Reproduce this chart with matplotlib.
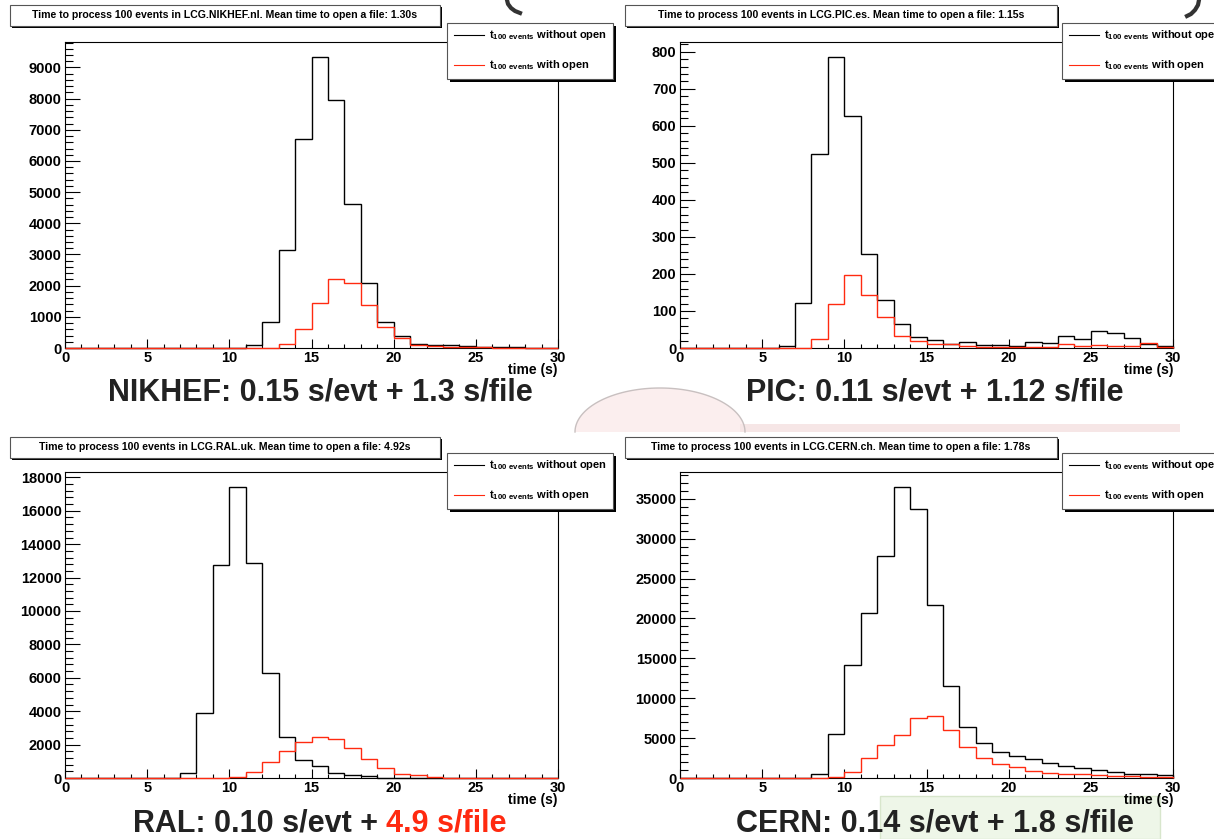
import numpy as np
import matplotlib.pyplot as plt
from matplotlib.patches import Rectangle, Polygon
from matplotlib.lines import Line2D
from matplotlib.ticker import MultipleLocator

plt.rcParams['font.family'] = ['Liberation Sans', 'DejaVu Sans']
plt.rcParams['font.weight'] = 'bold'
plt.rcParams['mathtext.fontset'] = 'custom'
plt.rcParams['mathtext.rm'] = 'Liberation Sans:bold'
plt.rcParams['mathtext.bf'] = 'Liberation Sans:bold'

W, H = 1214, 839
RED = '#ff2a10'

# time bins (s), 1 s wide
bin_edges = np.arange(0, 31)

# counts per bin
nikhef_no_open = [0, 0, 0, 0, 0, 0, 0, 0, 0, 0,
                  0, 90, 820, 3140, 6690, 9350, 7950, 4630, 2100, 840,
                  395, 140, 105, 95, 65, 30, 32, 32, 0, 0]
nikhef_open = [0, 0, 0, 0, 0, 0, 0, 0, 0, 0,
               0, 0, 0, 130, 600, 1430, 2200, 2100, 1380, 660,
               330, 96, 53, 32, 21, 21, 10, 8, 5, 3]

pic_no_open = [0, 0, 0, 0, 0, 0, 5, 122, 524, 787,
               627, 254, 129, 66, 29, 21, 10, 15, 8, 8,
               5, 15, 13, 33, 23, 46, 41, 26, 10, 5]
pic_open = [0, 0, 0, 0, 0, 0, 0, 0, 23, 120,
            197, 142, 83, 32, 19, 10, 11, 5, 4, 4,
            4, 4, 4, 11, 5, 7, 5, 5, 13, 3]

ral_no_open = [0, 0, 0, 0, 0, 0, 0, 320, 3890, 12750,
               17450, 12900, 6260, 2470, 1080, 720, 320, 200, 120, 20,
               20, 0, 0, 0, 0, 0, 0, 0, 0, 0]
ral_open = [0, 0, 0, 0, 0, 0, 0, 0, 0, 0,
            40, 380, 960, 1630, 2170, 2470, 2330, 1790, 1120, 580,
            260, 160, 60, 20, 0, 0, 0, 0, 0, 0]

cern_no_open = [0, 0, 0, 0, 0, 0, 0, 0, 500, 5460,
                14170, 20750, 27880, 36540, 33790, 21670, 11540, 6420, 4330, 3290,
                2710, 2330, 1880, 1540, 1210, 960, 750, 540, 460, 380]
cern_open = [0, 0, 0, 0, 0, 0, 0, 0, 0, 100,
             710, 2540, 4130, 5330, 7580, 7790, 5960, 3830, 2540, 1710,
             1420, 920, 670, 540, 460, 380, 290, 250, 170, 170]

titles = ['Time to process 100 events in LCG.NIKHEF.nl. Mean time to open a file: 1.30s',
          'Time to process 100 events in LCG.PIC.es. Mean time to open a file: 1.15s',
          'Time to process 100 events in LCG.RAL.uk. Mean time to open a file: 4.92s',
          'Time to process 100 events in LCG.CERN.ch. Mean time to open a file: 1.78s']
y_major = [1000, 100, 2000, 5000]
y_minor = [200, 20, 400, 1000]


def fx(x):
    return x / W


def fy(y):
    return 1 - y / H


def rect_px(x0, y0, x1, y1, **kw):
    return Rectangle((fx(x0), fy(y1)), (x1 - x0) / W, (y1 - y0) / H,
                     transform=fig.transFigure, **kw)


fig = plt.figure(figsize=(W / 100, H / 100), dpi=100)

# faint slide decorations in the background
th = np.linspace(0, np.pi, 80)
dx = 660 + 85 * np.cos(th)
dy = 432 - 44 * np.sin(th)
fig.add_artist(Polygon(np.column_stack([fx(dx), fy(dy)]), closed=True, transform=fig.transFigure,
                       facecolor='#fbeeee', edgecolor='none', zorder=-5))
fig.add_artist(Line2D(fx(dx), fy(dy), color='#c8c0c0', lw=1.0, transform=fig.transFigure, zorder=-4))
fig.add_artist(rect_px(740, 424, 1180, 432, facecolor='#f6e6e6', edgecolor='none', zorder=-5))
fig.add_artist(rect_px(880, 796, 1160, 839, facecolor='#eef6e8', edgecolor='#d8e6cc', lw=1, zorder=-5))
# cut-off bracket strokes of the slide heading
fig.add_artist(Line2D(fx(np.array([507, 508, 511, 515, 520])), fy(np.array([0, 4, 8, 11, 13])),
                      color='#333333', lw=3, transform=fig.transFigure))
fig.add_artist(Line2D(fx(np.array([1199, 1198, 1195, 1191, 1187])), fy(np.array([0, 5, 10, 14, 16])),
                      color='#333333', lw=3, transform=fig.transFigure))

# frame boxes (left, top, right, bottom) in pixels
frames = [(65, 42, 558, 348), (680, 42, 1173, 348), (65, 472, 558, 778), (680, 472, 1173, 778)]
title_boxes = [(10, 5, 440, 26), (625, 5, 1057, 26), (10, 437, 440, 458), (625, 437, 1057, 458)]
legend_boxes = [(447, 23, 613, 79), (1062, 23, 1228, 79), (447, 453, 613, 509), (1062, 453, 1228, 509)]
series = [(nikhef_no_open, nikhef_open), (pic_no_open, pic_open),
          (ral_no_open, ral_open), (cern_no_open, cern_open)]

for i in range(4):
    l, t, r, b = frames[i]
    ax = fig.add_axes([fx(l), fy(b), (r - l) / W, (b - t) / H])
    no_open, with_open = series[i]
    ax.stairs(no_open, bin_edges, color='black', lw=1.0, clip_on=False, zorder=3)
    ax.stairs(with_open, bin_edges, color=RED, lw=1.0, clip_on=False, zorder=4)
    ax.set_xlim(0, 30)
    ax.set_ylim(0, 1.05 * max(no_open))
    ax.xaxis.set_major_locator(MultipleLocator(5))
    ax.xaxis.set_minor_locator(MultipleLocator(1))
    ax.yaxis.set_major_locator(MultipleLocator(y_major[i]))
    ax.yaxis.set_minor_locator(MultipleLocator(y_minor[i]))
    ax.tick_params(which='both', direction='in', top=False, right=False,
                   labelsize=10.5, width=0.8)
    ax.tick_params(axis='y', which='major', length=11, pad=2.5)
    ax.tick_params(axis='y', which='minor', length=5.5)
    ax.tick_params(axis='x', which='major', length=6.5, pad=2.5)
    ax.tick_params(axis='x', which='minor', length=3)
    for s in ax.spines.values():
        s.set_linewidth(0.8)
    fig.text(fx(r), fy(b + 22), 'time (s)', fontsize=10, ha='right', va='center')

    # title box
    x0, y0, x1, y1 = title_boxes[i]
    fig.add_artist(rect_px(x0 + 2, y0 + 2, x1 + 2, y1 + 2, facecolor='black', edgecolor='none', zorder=5))
    fig.add_artist(rect_px(x0, y0, x1, y1, facecolor='white', edgecolor='#555555', lw=0.8, zorder=6))
    fig.text(fx((x0 + x1) / 2), fy((y0 + y1) / 2), titles[i], fontsize=7.6,
             ha='center', va='center', zorder=7)

    # legend box
    x0, y0, x1, y1 = legend_boxes[i]
    fig.add_artist(rect_px(x0 + 3, y0 + 3, x1 + 3, y1 + 3, facecolor='black', edgecolor='none', zorder=5))
    fig.add_artist(rect_px(x0, y0, x1, y1, facecolor='white', edgecolor='#555555', lw=0.8, zorder=6))
    for k, (col, lab) in enumerate([('black', 'without open'), (RED, 'with open')]):
        yy = y0 + 12 + k * 30
        fig.add_artist(Line2D([fx(x0 + 7), fx(x0 + 37)], [fy(yy), fy(yy)], color=col, lw=0.8,
                              transform=fig.transFigure, zorder=7))
        fig.text(fx(x0 + 42), fy(yy), r'$\mathbf{t_{100\ events}}$ ' + lab, fontsize=8,
                 ha='left', va='center', zorder=7)

# summary lines under each panel
big = dict(fontsize=22, color='#222222', va='center')
fig.text(fx(320), fy(392), 'NIKHEF: 0.15 s/evt + 1.3 s/file', ha='center', **big)
fig.text(fx(935), fy(392), 'PIC: 0.11 s/evt + 1.12 s/file', ha='center', **big)
t1 = fig.text(fx(133), fy(823), 'RAL: 0.10 s/evt + ', ha='left', **big)
fig.add_artist(plt.Annotation('4.9 s/file', xy=(1, 0.5), xycoords=t1, va='center', ha='left',
                              fontsize=22, color=RED))
fig.text(fx(935), fy(823), 'CERN: 0.14 s/evt + 1.8 s/file', ha='center', **big)

fig.savefig('out.png', dpi=100)
